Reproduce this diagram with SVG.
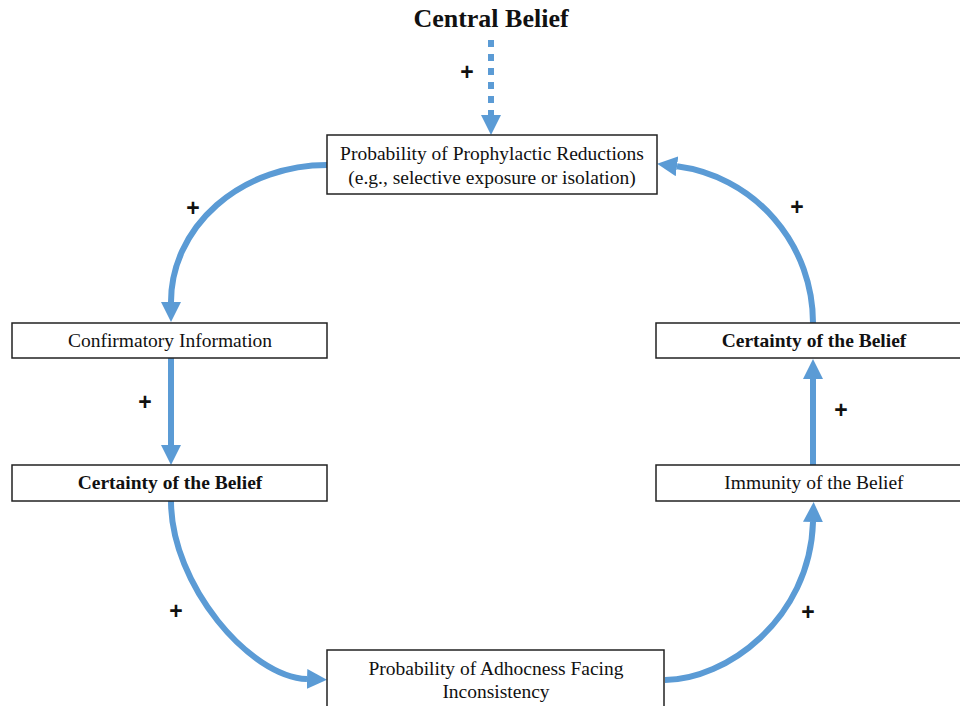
<svg xmlns="http://www.w3.org/2000/svg" width="960" height="706" viewBox="0 0 960 706">
<style>
.box{fill:#fff;stroke:#222;stroke-width:1.5}
.t{font-family:"Liberation Serif","Times New Roman",serif;font-size:19.5px;fill:#111;text-anchor:middle}
.b{font-weight:bold}
.plus{font-family:"Liberation Sans",Arial,sans-serif;font-size:23px;font-weight:bold;fill:#111;text-anchor:middle}
.c{fill:none;stroke:#5B9BD5;stroke-width:6}
</style>
<defs>
<marker id="ah" viewBox="0 0 20 20" markerUnits="userSpaceOnUse" markerWidth="20" markerHeight="20" refX="0" refY="10" orient="auto">
<path d="M0,0 L20,10 L0,20 z" fill="#5B9BD5"/>
</marker>
</defs>
<rect width="960" height="706" fill="#fff"/>
<g id="central">
<text x="491" y="27" class="t b" style="font-size:26px">Central Belief</text>
</g>
<g id="connectors">
<path class="c" d="M491,40 L491,115" stroke-dasharray="7 7" marker-end="url(#ah)"/>
<path class="c" d="M327,165 A156,137 0 0 0 171,302" marker-end="url(#ah)"/>
<path class="c" d="M171,358 L171,445" marker-end="url(#ah)"/>
<path class="c" d="M171,501 C171,585 250,677 307,679" marker-end="url(#ah)"/>
<path class="c" d="M665,680 C725,680 810,620 813,522" marker-end="url(#ah)"/>
<path class="c" d="M813,465 L813,379" marker-end="url(#ah)"/>
<path class="c" d="M813,323 A156,158 0 0 0 677,166.3" marker-end="url(#ah)"/>
</g>
<g id="prophylactic">
<rect class="box" x="327" y="135" width="330" height="59"/>
<text class="t" x="492" y="160">Probability of Prophylactic Reductions</text>
<text class="t" x="492" y="184">(e.g., selective exposure or isolation)</text>
</g>
<g id="confirmatory">
<rect class="box" x="12" y="323" width="315" height="35"/>
<text class="t" x="170" y="347">Confirmatory Information</text>
</g>
<g id="certainty-left">
<rect class="box" x="12" y="465" width="315" height="36"/>
<text class="t b" x="170" y="489">Certainty of the Belief</text>
</g>
<g id="certainty-right">
<rect class="box" x="656" y="323" width="310" height="35"/>
<text class="t b" x="814" y="347">Certainty of the Belief</text>
</g>
<g id="immunity">
<rect class="box" x="656" y="465" width="310" height="36"/>
<text class="t" x="814" y="489">Immunity of the Belief</text>
</g>
<g id="adhocness">
<rect class="box" x="327" y="650" width="337" height="62"/>
<text class="t" x="496" y="675">Probability of Adhocness Facing</text>
<text class="t" x="496" y="698">Inconsistency</text>
</g>
<g id="signs">
<text class="plus" x="467" y="80">+</text>
<text class="plus" x="193" y="216">+</text>
<text class="plus" x="145" y="410">+</text>
<text class="plus" x="176" y="619">+</text>
<text class="plus" x="797" y="215">+</text>
<text class="plus" x="841" y="418">+</text>
<text class="plus" x="808" y="620">+</text>
</g>
</svg>
